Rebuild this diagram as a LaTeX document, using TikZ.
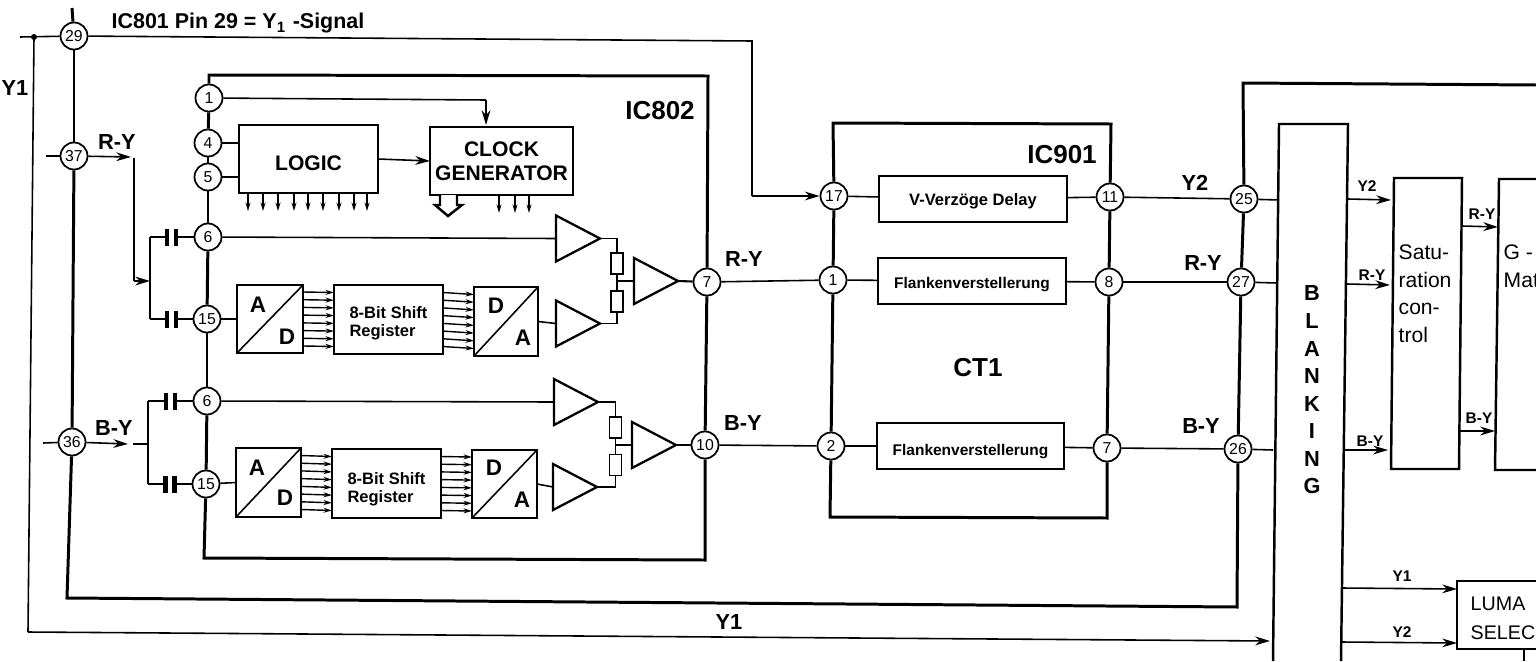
\documentclass[tikz,border=0pt]{standalone}
\usepackage{fontspec}
\setmainfont{Liberation Sans}
\usetikzlibrary{arrows.meta,shapes.geometric}
\begin{document}
\begin{tikzpicture}[
    pin/.style={circle, draw, fill=white, line width=0.5pt, minimum size=0.27cm, inner sep=0pt, font=\fontsize{4.5}{5}\selectfont},
    block/.style={rectangle, draw, line width=0.7pt, inner sep=0pt, outer sep=0pt, align=center, font=\fontsize{6}{6.8}\selectfont\bfseries},
    smallblock/.style={block, line width=0.5pt, text depth=0pt, font=\fontsize{4.4}{5}\selectfont\bfseries},
    shiftblock/.style={block, align=left, font=\fontsize{4.7}{5.1}\selectfont\bfseries},
    lab/.style={inner sep=0pt, font=\fontsize{6.2}{7}\selectfont\bfseries},
    biglab/.style={inner sep=0pt, font=\fontsize{7.4}{8}\selectfont\bfseries},
    smalllab/.style={inner sep=0pt, font=\fontsize{4.4}{5}\selectfont\bfseries},
    letter/.style={inner sep=0pt, font=\fontsize{6.4}{7}\selectfont\bfseries},
    amp/.style={isosceles triangle, isosceles triangle stretches, draw, line width=0.65pt, inner sep=0pt, outer sep=0pt, minimum width=0.46cm, minimum height=0.44cm, anchor=west},
    res/.style={rectangle, draw, line width=0.5pt, inner sep=0pt, outer sep=0pt, minimum width=0.12cm, minimum height=0.21cm},
    capa/.style={inner sep=0pt, outer sep=0pt, minimum width=0.09cm, minimum height=0.17cm},
    plate/.style={line width=1.2pt},
    bus/.style={line width=0.85pt},
    wire/.style={line width=0.45pt},
    arr/.style={->, line width=0.45pt, >={Stealth[length=4.2pt,width=2.5pt]}},
    tinyarr/.style={->, line width=0.4pt, >={Stealth[length=2.4pt,width=1.4pt]}}
]
\useasboundingbox (0,0) rectangle (15.36,-6.61);

\node[pin] (p29) at (0.74,-0.36) {29};
\node[pin] (p37) at (0.74,-1.56) {37};
\node[pin] (p36) at (0.72,-4.42) {36};
\node[pin] (p1) at (2.09,-0.98) {1};
\node[pin] (p4) at (2.08,-1.43) {4};
\node[pin] (p5) at (2.08,-1.77) {5};
\node[pin] (p6a) at (2.08,-2.37) {6};
\node[pin] (p15a) at (2.07,-3.19) {15};
\node[pin] (p6b) at (2.07,-4.01) {6};
\node[pin] (p15b) at (2.06,-4.84) {15};
\node[pin] (p7) at (7.07,-2.82) {7};
\node[pin] (p10) at (7.05,-4.45) {10};
\node[pin] (q17) at (8.34,-1.96) {17};
\node[pin] (q1) at (8.33,-2.80) {1};
\node[pin] (q2) at (8.31,-4.46) {2};
\node[pin] (q11) at (11.10,-1.97) {11};
\node[pin] (q8) at (11.09,-2.82) {8};
\node[pin] (q7) at (11.07,-4.48) {7};
\node[pin] (p25) at (12.44,-1.99) {25};
\node[pin] (p27) at (12.41,-2.82) {27};
\node[pin] (p26) at (12.38,-4.49) {26};

\node[block, text height=6.3pt, text depth=0pt, minimum width=1.39cm, minimum height=0.68cm] (logic) at (3.085,-1.59) {LOGIC};
\node[block, minimum width=1.43cm, minimum height=0.68cm] (clock) at (5.015,-1.61) {CLOCK\\GENERATOR};
\node[block, minimum width=0.66cm, minimum height=0.68cm] (ada) at (2.70,-3.19) {};
\node[shiftblock, minimum width=1.09cm, minimum height=0.69cm] (srega) at (3.885,-3.195) {\rule{0pt}{5.4pt}8-Bit Shift\\Register};
\node[block, minimum width=0.64cm, minimum height=0.69cm] (daa) at (5.06,-3.215) {};
\node[block, minimum width=0.65cm, minimum height=0.69cm] (adb) at (2.685,-4.825) {};
\node[shiftblock, minimum width=1.09cm, minimum height=0.69cm] (sregb) at (3.865,-4.835) {\rule{0pt}{6.8pt}8-Bit Shift\\Register};
\node[block, minimum width=0.65cm, minimum height=0.68cm] (dab) at (5.045,-4.84) {};
\node[smallblock, text height=3.5pt, font=\fontsize{4.7}{5}\selectfont\bfseries, minimum width=1.88cm, minimum height=0.46cm] (delay) at (9.73,-1.99) {V-Verzöge Delay};
\node[smallblock, text height=4.3pt, minimum width=1.88cm, minimum height=0.46cm] (flanka) at (9.72,-2.81) {Flankenverstellerung};
\node[smallblock, text height=5.4pt, minimum width=1.87cm, minimum height=0.46cm] (flankb) at (9.705,-4.46) {Flankenverstellerung};

\node[amp] (ampa) at (5.56,-2.385) {};
\node[amp] (ampb) at (5.56,-3.235) {};
\node[amp] (ampc) at (6.34,-2.81) {};
\node[amp] (ampd) at (5.54,-4.02) {};
\node[amp] (ampe) at (5.53,-4.87) {};
\node[amp] (ampf) at (6.32,-4.45) {};
\node[res] (resa) at (6.17,-2.635) {};
\node[res] (resb) at (6.17,-3.015) {};
\node[res] (resc) at (6.155,-4.275) {};
\node[res] (resd) at (6.155,-4.65) {};
\node[capa] (capa1) at (1.715,-2.37) {};
\node[capa] (capa2) at (1.715,-3.19) {};
\node[capa] (capb1) at (1.705,-4.01) {};
\node[capa] (capb2) at (1.70,-4.84) {};

\node[lab, font=\fontsize{6.1}{7}\selectfont\bfseries] (title) at (2.38,-0.23) {IC801 Pin 29 = Y\textsubscript{1} -Signal};
\node[biglab] (nameic8) at (6.60,-1.11) {IC802};
\node[biglab] (nameic9) at (10.62,-1.55) {IC901};
\node[biglab] (namect) at (9.78,-3.68) {CT1};
\node[lab] (laby) at (0.15,-0.88) {Y1};
\node[lab] (labyb) at (7.29,-6.22) {Y1};
\node[lab] (labra) at (1.17,-1.42) {R-Y};
\node[lab] (labba) at (1.14,-4.28) {B-Y};
\node[lab] (labrb) at (7.44,-2.59) {R-Y};
\node[lab] (labbb) at (7.43,-4.23) {B-Y};
\node[lab] (labyc) at (11.95,-1.83) {Y2};
\node[lab] (labrc) at (12.03,-2.63) {R-Y};
\node[lab] (labbc) at (12.01,-4.26) {B-Y};
\node[smalllab] (labyd) at (13.67,-1.86) {Y2};
\node[smalllab] (labrd) at (13.72,-2.75) {R-Y};
\node[smalllab] (labbd) at (13.70,-4.41) {B-Y};
\node[smalllab] (labre) at (14.82,-2.14) {R-Y};
\node[smalllab] (labbe) at (14.79,-4.18) {B-Y};
\node[smalllab] (labyf) at (14.02,-5.76) {Y1};
\node[smalllab] (labyg) at (14.02,-6.32) {Y2};
\node[letter] (lada) at (2.58,-3.05) {A};
\node[letter] (ldda) at (2.87,-3.37) {D};
\node[letter] (ldab) at (4.96,-3.06) {D};
\node[letter] (laab) at (5.23,-3.38) {A};
\node[letter] (ladc) at (2.57,-4.68) {A};
\node[letter] (lddc) at (2.85,-4.98) {D};
\node[letter] (lddd) at (4.94,-4.68) {D};
\node[letter] (ladd) at (5.22,-5.00) {A};
\node[inner sep=0pt, align=center, font=\fontsize{6.2}{7.85}\selectfont\bfseries] (blank) at (13.12,-3.90) {B\\L\\A\\N\\K\\I\\N\\G};
\node[inner sep=0pt, align=left, anchor=north west, font=\fontsize{6}{7.85}\selectfont] (sattext) at (13.98,-2.44) {Satu-\\ration\\con-\\trol};
\node[inner sep=0pt, align=left, anchor=north west, font=\fontsize{6}{7.85}\selectfont] (gtext) at (15.03,-2.44) {G -\\Mat};
\node[inner sep=0pt, align=left, anchor=north west, font=\fontsize{5.6}{8.2}\selectfont] (lumatext) at (14.70,-5.96) {LUMA\\SELEC};

\coordinate (busup) at (0.72,-0.08);
\coordinate (busleft) at (0.67,-5.98);
\coordinate (busright) at (12.37,-6.07);
\coordinate (bustop) at (12.43,-0.83);
\coordinate (busend) at (15.36,-0.85);
\coordinate (yin) at (0.20,-0.37);
\coordinate (ydot) at (0.34,-0.37);
\coordinate (ycorner) at (0.28,-6.32);
\coordinate (yend) at (12.70,-6.41);
\coordinate (ryin) at (0.46,-1.56);
\coordinate (ryend) at (1.31,-1.57);
\coordinate (rydown) at (1.34,-1.58);
\coordinate (rybend) at (1.34,-2.81);
\coordinate (ryjoin) at (1.50,-2.81);
\coordinate (ryup) at (1.50,-2.37);
\coordinate (rylow) at (1.50,-3.19);
\coordinate (byin) at (0.43,-4.43);
\coordinate (byend) at (1.28,-4.44);
\coordinate (bydash) at (1.33,-4.44);
\coordinate (byjoin) at (1.48,-4.44);
\coordinate (byup) at (1.48,-4.01);
\coordinate (bylow) at (1.48,-4.84);
\coordinate (icatl) at (2.09,-0.75);
\coordinate (icatr) at (7.08,-0.76);
\coordinate (icabr) at (7.05,-5.60);
\coordinate (icabl) at (2.04,-5.58);
\coordinate (ictl) at (8.33,-1.23);
\coordinate (ictr) at (11.11,-1.24);
\coordinate (icbr) at (11.07,-5.18);
\coordinate (icbl) at (8.30,-5.17);
\coordinate (sigcorner) at (7.52,-0.41);
\coordinate (sigdown) at (7.52,-1.96);
\coordinate (clkbend) at (4.86,-1.00);
\coordinate (clkin) at (4.86,-1.25);
\coordinate (blatl) at (12.79,-1.24);
\coordinate (blatr) at (13.48,-1.24);
\coordinate (blabl) at (12.73,-6.61);
\coordinate (blabr) at (13.41,-6.61);
\coordinate (blaa) at (12.79,-2.00);
\coordinate (blab) at (12.77,-2.83);
\coordinate (blac) at (12.73,-4.50);
\coordinate (satatl) at (13.94,-1.78);
\coordinate (satatr) at (14.62,-1.78);
\coordinate (satabr) at (14.59,-4.69);
\coordinate (satabl) at (13.91,-4.69);
\coordinate (gatl) at (14.99,-1.79);
\coordinate (gatr) at (15.36,-1.79);
\coordinate (gabl) at (14.95,-4.70);
\coordinate (gabr) at (15.36,-4.70);
\coordinate (lumatl) at (14.57,-5.81);
\coordinate (lumatr) at (15.36,-5.81);
\coordinate (lumabl) at (14.57,-6.49);
\coordinate (lumabr) at (15.36,-6.49);
\coordinate (lumastub) at (15.24,-6.50);
\coordinate (lumastube) at (15.24,-6.61);
\coordinate (blaya) at (13.48,-1.99);
\coordinate (satya) at (13.91,-2.00);
\coordinate (blara) at (13.47,-2.84);
\coordinate (satra) at (13.90,-2.85);
\coordinate (blaba) at (13.44,-4.50);
\coordinate (satba) at (13.88,-4.50);
\coordinate (satrb) at (14.62,-2.26);
\coordinate (grb) at (14.98,-2.27);
\coordinate (satbb) at (14.59,-4.31);
\coordinate (gbb) at (14.95,-4.31);
\coordinate (blayb) at (13.42,-5.88);
\coordinate (lumaya) at (14.57,-5.89);
\coordinate (blayc) at (13.42,-6.42);
\coordinate (lumayb) at (14.57,-6.43);

\draw[bus] (busup) -- (p29);
\draw[bus] (p29) -- (p37);
\draw[bus] (p37) -- (p36);
\draw[bus] (p36) -- (busleft) -- (busright) -- (p26);
\draw[bus] (p26) -- (p27);
\draw[bus] (p27) -- (p25);
\draw[bus] (p25) -- (bustop) -- (busend);
\draw[wire] (yin) -- (p29);
\fill (ydot) circle (0.03);
\draw[wire] (ydot) -- (ycorner);
\draw[arr] (ycorner) -- (yend);
\draw[wire] (ryin) -- (p37);
\draw[arr] (p37) -- (ryend);
\draw[wire] (rydown) -- (rybend);
\draw[arr] (rybend) -- (ryjoin);
\draw[wire] (ryup) -- (rylow);
\draw[wire] (ryup) -- (capa1.west);
\draw[wire] (rylow) -- (capa2.west);
\draw[wire] (byin) -- (p36);
\draw[arr] (p36) -- (byend);
\draw[wire] (bydash) -- (byjoin);
\draw[wire] (byup) -- (bylow);
\draw[wire] (byup) -- (capb1.west);
\draw[wire] (bylow) -- (capb2.west);
\draw[plate] (capa1.north west) -- (capa1.south west);
\draw[plate] (capa1.north east) -- (capa1.south east);
\draw[plate] (capa2.north west) -- (capa2.south west);
\draw[plate] (capa2.north east) -- (capa2.south east);
\draw[plate] (capb1.north west) -- (capb1.south west);
\draw[plate] (capb1.north east) -- (capb1.south east);
\draw[plate] (capb2.north west) -- (capb2.south west);
\draw[plate] (capb2.north east) -- (capb2.south east);
\draw[wire] (capa1.east) -- (p6a);
\draw[wire] (capa2.east) -- (p15a);
\draw[wire] (capb1.east) -- (p6b);
\draw[wire] (capb2.east) -- (p15b);

\draw[bus] (p1) -- (icatl) -- (icatr) -- (p7);
\draw[bus] (p7) -- (p10);
\draw[bus] (p10) -- (icabr) -- (icabl) -- (p15b);
\draw[bus] (p1) -- (p4);
\draw[bus] (p4) -- (p5);
\draw[bus] (p5) -- (p6a);
\draw[bus] (p6a) -- (p15a);
\draw[bus] (p15a) -- (p6b);
\draw[bus] (p6b) -- (p15b);
\draw[wire] (p1) -- (clkbend);
\draw[arr] (clkbend) -- (clkin);
\draw[wire] (p4) -- (p4 -| logic.west);
\draw[wire] (p5) -- (p5 -| logic.west);
\draw[arr] (logic.east) -- (clock.west);
\foreach \dx in {-0.605,-0.455,-0.305,-0.145,-0.005,0.145,0.305,0.455,0.585}
    \draw[tinyarr] ([xshift=\dx cm]logic.south) -- ++(0,-0.18);
\foreach \dx in {-0.025,0.135,0.275}
    \draw[tinyarr] ([xshift=\dx cm]clock.south) -- ++(0,-0.18);
\draw[line width=0.7pt, fill=white] (clock.south -| 4.40,0) -- (4.40,-2.05) -- (4.35,-2.05) -- (4.48,-2.16) -- (4.62,-2.05) -- (4.57,-2.05) -- (clock.south -| 4.57,0);

\draw[wire] (ada.south west) -- (ada.north east);
\draw[wire] (daa.south west) -- (daa.north east);
\draw[wire] (adb.south west) -- (adb.north east);
\draw[wire] (dab.south west) -- (dab.north east);
\foreach \dy in {-0.27,-0.193,-0.116,-0.039,0.039,0.116,0.193,0.27} {
    \draw[tinyarr] ([yshift=\dy cm]ada.east) -- ([yshift=\dy cm]srega.west);
    \draw[tinyarr] ([yshift=\dy cm]srega.east) -- ([yshift=\dy cm]daa.west);
    \draw[tinyarr] ([yshift=\dy cm]adb.east) -- ([yshift=\dy cm]sregb.west);
    \draw[tinyarr] ([yshift=\dy cm]sregb.east) -- ([yshift=\dy cm]dab.west);
}
\draw[wire] (p15a) -- (ada.west);
\draw[wire] (p15b) -- (adb.west);
\draw[wire] (p6a) -- (ampa.west);
\draw[wire] (p6b) -- (ampd.west);
\draw[wire] (daa.east) -- (ampb.west);
\draw[wire] (dab.east) -- (ampe.west);
\draw[wire] (ampa.apex) -| (resa.north);
\draw[wire] (ampb.apex) -| (resb.south);
\draw[wire] (resa.south) -- (resb.north);
\draw[wire] (ampc.west -| resa.south) -- (ampc.west);
\draw[wire] (ampd.apex) -| (resc.north);
\draw[wire] (ampe.apex) -| (resd.south);
\draw[wire] (resc.south) -- (resd.north);
\draw[wire] (ampf.west -| resc.south) -- (ampf.west);
\draw[line width=0.6pt] (ampc.apex) -- (p7);
\draw[wire] (ampf.apex) -- (p10);

\draw[wire] (p7) -- (q1);
\draw[wire] (p10) -- (q2);
\draw[wire] (p29) -- (sigcorner) -- (sigdown);
\draw[arr] (sigdown) -- (q17);
\draw[bus] (q17) -- (ictl) -- (ictr) -- (q11);
\draw[bus] (q11) -- (q8);
\draw[bus] (q8) -- (q7);
\draw[bus] (q7) -- (icbr) -- (icbl) -- (q2);
\draw[bus] (q2) -- (q1);
\draw[bus] (q1) -- (q17);
\draw[wire] (q17) -- (delay);
\draw[wire] (q1) -- (flanka);
\draw[wire] (q2) -- (flankb);
\draw[wire] (delay) -- (q11);
\draw[wire] (flanka) -- (q8);
\draw[wire] (flankb) -- (q7);
\draw[wire] (q11) -- (p25);
\draw[wire] (q8) -- (p27);
\draw[wire] (q7) -- (p26);
\draw[wire] (p25) -- (blaa);
\draw[wire] (p27) -- (blab);
\draw[wire] (p26) -- (blac);

\draw[block] (blabl) -- (blatl) -- (blatr) -- (blabr);
\draw[block] (satabl) -- (satatl) -- (satatr) -- (satabr) -- cycle;
\draw[block] (gatr) -- (gatl) -- (gabl) -- (gabr);
\draw[block] (lumatr) -- (lumatl) -- (lumabl) -- (lumabr);
\draw[wire] (lumastub) -- (lumastube);
\draw[arr] (blaya) -- (satya);
\draw[arr] (blara) -- (satra);
\draw[arr] (blaba) -- (satba);
\draw[arr] (satrb) -- (grb);
\draw[arr] (satbb) -- (gbb);
\draw[arr] (blayb) -- (lumaya);
\draw[arr] (blayc) -- (lumayb);
\end{tikzpicture}
\end{document}
